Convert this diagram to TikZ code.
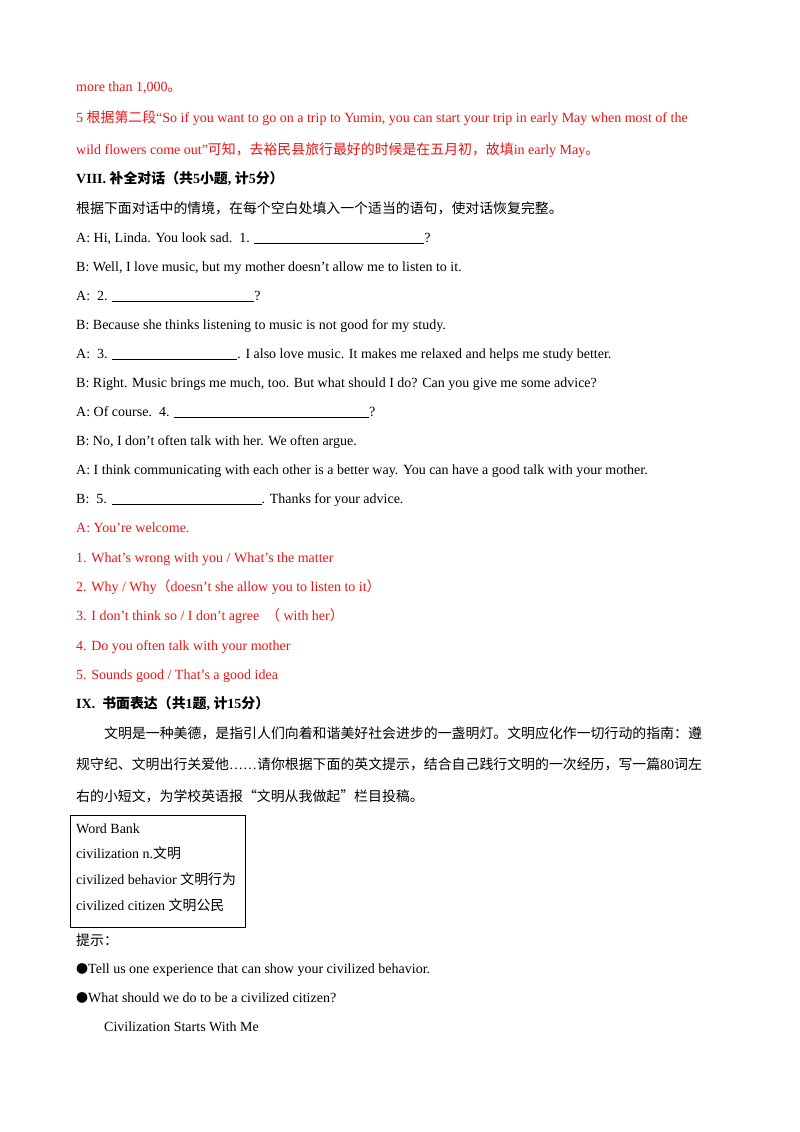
\documentclass[tikz,border=0pt]{standalone}
\usepackage{fontspec}
\setmainfont{Liberation Serif}
\newfontfamily\zhf{Noto Sans CJK SC}
\newcommand{\zh}[1]{{\zhf\fontsize{13.9}{15}\selectfont #1}}
\definecolor{ans}{RGB}{235,20,20}
\begin{document}
\begin{tikzpicture}[x=1pt,y=-1pt]
\tikzset{ln/.style={anchor=base west,inner sep=0pt,font=\fontsize{14}{16}\selectfont},
 rd/.style={ln,text=ans}, bx/.style={draw,line width=0.9pt}}
\useasboundingbox (0,0) rectangle (800,1132);
\node[rd] (l1) at (76,92) {more than 1,000\zh{。}};
\node[rd] (l2) at (76,122) {5 \zh{根据第二段}“So if you want to go on a trip to Yumin, you can start your trip in early May when most of the};
\node[rd] (l3) at (76,154) {wild flowers come out”\zh{可知，去裕民县旅行最好的时候是在五月初，故填}in early May\zh{。}};
\node[ln] (h8) at (76,183) {\textbf{VIII.} \zh{\bfseries 补全对话（共}\textbf{5}\zh{\bfseries 小题}\textbf{,} \zh{\bfseries 计}\textbf{5}\zh{\bfseries 分）}};
\node[ln] (i8) at (76,213) {\zh{根据下面对话中的情境，在每个空白处填入一个适当的语句，使对话恢复完整。}};
\node[ln] (d1) at (76,242) {A: Hi, Linda. You look sad.\ \ 1. \underline{\hspace{170pt}}?};
\node[ln] (d2) at (76,271) {B: Well, I love music, but my mother doesn't allow me to listen to it.};
\node[ln] (d3) at (76,300) {A:\ \ 2. \underline{\hspace{142pt}}?};
\node[ln] (d4) at (76,329) {B: Because she thinks listening to music is not good for my study.};
\node[ln] (d5) at (76,358) {A:\ \ 3. \underline{\hspace{125pt}}. I also love music. It makes me relaxed and helps me study better.};
\node[ln] (d6) at (76,387) {B: Right. Music brings me much, too. But what should I do? Can you give me some advice?};
\node[ln] (d7) at (76,416) {A: Of course.\ \ 4. \underline{\hspace{195pt}}?};
\node[ln] (d8) at (76,445) {B: No, I don't often talk with her. We often argue.};
\node[ln] (d9) at (76,474) {A: I think communicating with each other is a better way. You can have a good talk with your mother.};
\node[ln] (d10) at (76,503) {B:\ \ 5. \underline{\hspace{150pt}}. Thanks for your advice.};
\node[rd] (a0) at (76,532) {A: You're welcome.};
\node[rd] (a1) at (76,562) {1. What's wrong with you / What's the matter};
\node[rd] (a2) at (76,591) {2. Why / Why\zh{（}doesn't she allow you to listen to it\zh{）}};
\node[rd] (a3) at (76,620) {3. I don't think so / I don't agree\ \ \zh{（}\ with her\zh{）}};
\node[rd] (a4) at (76,650) {4. Do you often talk with your mother};
\node[rd] (a5) at (76,679) {5. Sounds good / That's a good idea};
\node[ln] (h9) at (76,708) {\textbf{IX.}\ \ \zh{\bfseries 书面表达（共}\textbf{1}\zh{\bfseries 题}\textbf{,} \zh{\bfseries 计}\textbf{15}\zh{\bfseries 分）}};
\node[ln] (p1) at (104,738) {\zh{文明是一种美德，是指引人们向着和谐美好社会进步的一盏明灯。文明应化作一切行动的指南：遵}};
\node[ln] (p2) at (76,769) {\zh{规守纪、文明出行关爱他}……\zh{请你根据下面的英文提示，结合自己践行文明的一次经历，写一篇}80\zh{词左}};
\node[ln] (p3) at (76,801) {\zh{右的小短文，为学校英语报“文明从我做起”栏目投稿。}};
\draw[bx] (70,815) rectangle (245,927);
\node[ln] (w1) at (76,833) {Word Bank};
\node[ln] (w2) at (76,858) {civilization n.\zh{文明}};
\node[ln] (w3) at (76,884) {civilized behavior \zh{文明行为}};
\node[ln] (w4) at (76,910) {civilized citizen \zh{文明公民}};
\node[ln] (t0) at (76,945) {\zh{提示：}};
\node[ln] (t1) at (76,973) {{\zhf\fontsize{12}{12}\selectfont ●}Tell us one experience that can show your civilized behavior.};
\node[ln] (t2) at (76,1002) {{\zhf\fontsize{12}{12}\selectfont ●}What should we do to be a civilized citizen?};
\node[ln] (t3) at (104,1031) {Civilization Starts With Me};
\end{tikzpicture}
\end{document}
